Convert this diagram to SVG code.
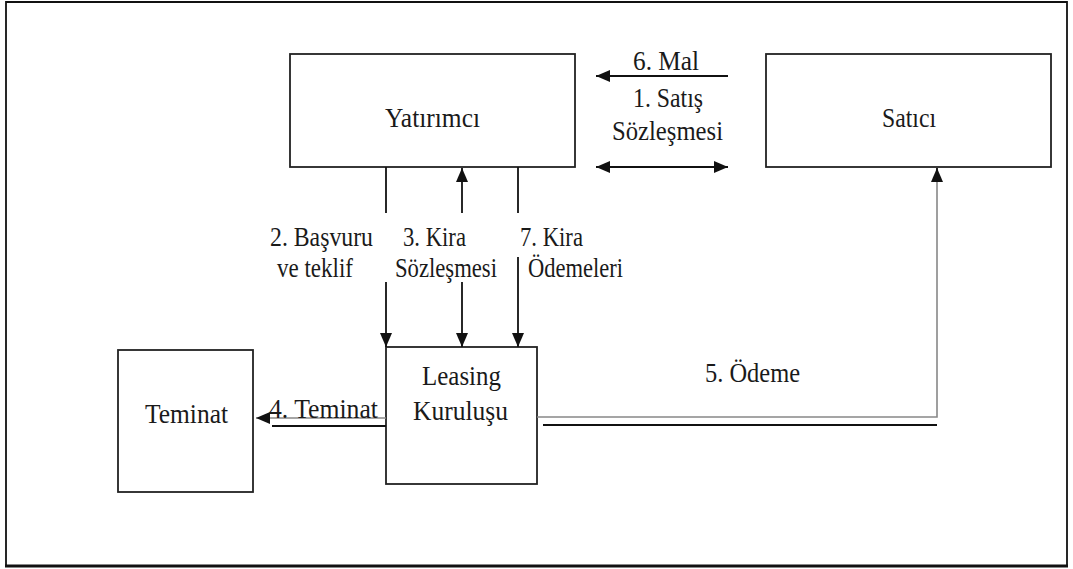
<svg xmlns="http://www.w3.org/2000/svg" width="1073" height="569" viewBox="0 0 1073 569">
<style>
.box{fill:#fff;stroke:#222;stroke-width:1.8}
.t{font-size:27px;fill:#1a1a1a}
.c{stroke:#111;stroke-width:1.8;fill:none}
.g{stroke:#888;stroke-width:1.6;fill:none}
</style>
<defs>
<marker id="ah" viewBox="0 0 14 12" refX="14" refY="6" markerWidth="14" markerHeight="12" markerUnits="userSpaceOnUse" orient="auto-start-reverse">
<path d="M0,0 L14,6 L0,12 z" fill="#111"/>
</marker>
</defs>
<rect width="1073" height="569" fill="#fff"/>
<g id="frame">
<path d="M6,566 L6,2 L1067,2 L1067,566" class="c" stroke-width="1.4"/>
<line x1="5" y1="566" x2="1068" y2="566" stroke="#111" stroke-width="3"/>
</g>
<g font-family="Liberation Serif, Times New Roman, Tinos, serif">
<g id="yatirimci">
<rect class="box" x="290" y="54" width="285" height="113"/>
<text class="t" x="385" y="127" textLength="95" lengthAdjust="spacingAndGlyphs">Yatırımcı</text>
</g>
<g id="satici">
<rect class="box" x="766" y="54" width="285" height="113"/>
<text class="t" x="882" y="127" textLength="54" lengthAdjust="spacingAndGlyphs">Satıcı</text>
</g>
<g id="leasing">
<rect class="box" x="386" y="347" width="151" height="137"/>
<text class="t" x="422" y="385" textLength="79" lengthAdjust="spacingAndGlyphs">Leasing</text>
<text class="t" x="413" y="420" textLength="95" lengthAdjust="spacingAndGlyphs">Kuruluşu</text>
</g>
<g id="teminat">
<rect class="box" x="118" y="350" width="135" height="142"/>
<text class="t" x="145" y="423" textLength="83" lengthAdjust="spacingAndGlyphs">Teminat</text>
</g>
<g id="connectors">
<line class="c" x1="728" y1="76" x2="596" y2="76" marker-end="url(#ah)"/>
<line class="c" x1="596" y1="167" x2="728" y2="167" marker-start="url(#ah)" marker-end="url(#ah)"/>
<line class="c" x1="386" y1="167" x2="386" y2="213"/>
<line class="c" x1="386" y1="282" x2="386" y2="347" marker-end="url(#ah)"/>
<line class="c" x1="462" y1="213" x2="462" y2="168" marker-end="url(#ah)"/>
<line class="c" x1="462" y1="282" x2="462" y2="347" marker-end="url(#ah)"/>
<line class="c" x1="518" y1="167" x2="518" y2="213"/>
<line class="c" x1="518" y1="257" x2="518" y2="347" marker-end="url(#ah)"/>
<line class="g" x1="386" y1="418" x2="256" y2="418" stroke="#ccc" marker-end="url(#ah)"/>
<line class="c" x1="272" y1="426" x2="386" y2="426"/>
<polyline class="g" points="537,417 937,417 937,180"/>
<line class="c" x1="937" y1="182" x2="937" y2="168" marker-end="url(#ah)"/>
<line class="c" x1="543" y1="425" x2="937" y2="425"/>
</g>
<g id="labels">
<text class="t" x="633" y="70" textLength="66" lengthAdjust="spacingAndGlyphs">6. Mal</text>
<text class="t" x="633" y="107" textLength="70" lengthAdjust="spacingAndGlyphs">1. Satış</text>
<text class="t" x="612" y="140" textLength="111" lengthAdjust="spacingAndGlyphs">Sözleşmesi</text>
<text class="t" x="270" y="246" textLength="103" lengthAdjust="spacingAndGlyphs">2. Başvuru</text>
<text class="t" x="277" y="277" textLength="76" lengthAdjust="spacingAndGlyphs">ve teklif</text>
<text class="t" x="403" y="246" textLength="63" lengthAdjust="spacingAndGlyphs">3. Kira</text>
<text class="t" x="395" y="277" textLength="102" lengthAdjust="spacingAndGlyphs">Sözleşmesi</text>
<text class="t" x="520" y="246" textLength="63" lengthAdjust="spacingAndGlyphs">7. Kira</text>
<text class="t" x="528" y="277" textLength="95" lengthAdjust="spacingAndGlyphs">Ödemeleri</text>
<text class="t" x="269" y="418" textLength="109" lengthAdjust="spacingAndGlyphs">4. Teminat</text>
<text class="t" x="705" y="382" textLength="95" lengthAdjust="spacingAndGlyphs">5. Ödeme</text>
</g>
</g>
</svg>
